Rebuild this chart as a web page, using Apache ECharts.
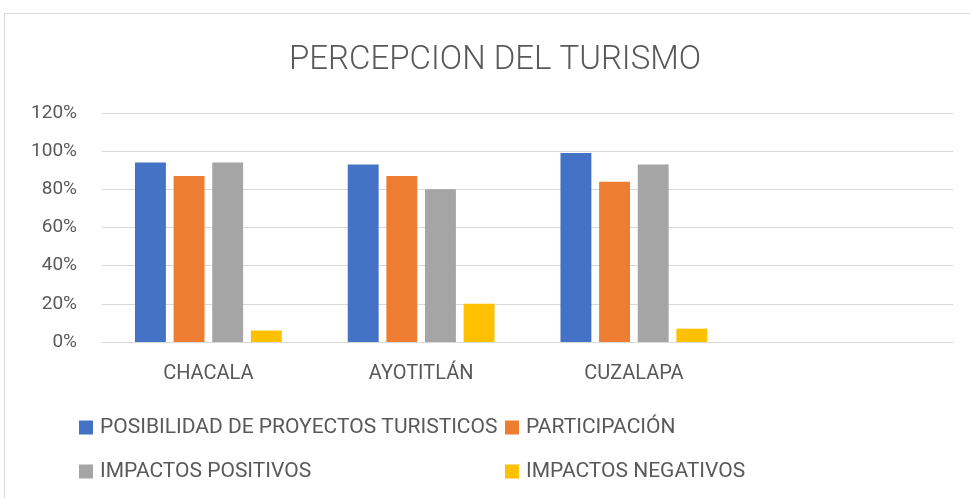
<!DOCTYPE html>
<html>
<head>
<meta charset="utf-8">
<script src="https://cdn.jsdelivr.net/npm/echarts@6/dist/echarts.min.js"></script>
<style>
  html, body { margin: 0; padding: 0; background: #fff; }
  #chart { width: 970px; height: 498px; }
</style>
</head>
<body>
<div id="chart"></div>
<script>
// Communities surveyed (fourth slot is an empty category in the source sheet)
const categories = ['CHACALA', 'AYOTITLÁN', 'CUZALAPA', ''];

const seriesNames = [
  'POSIBILIDAD DE PROYECTOS TURISTICOS',
  'PARTICIPACIÓN',
  'IMPACTOS POSITIVOS',
  'IMPACTOS NEGATIVOS'
];

// Percentages per community
const posibilidad = [94, 93, 99, null];
const participacion = [87, 87, 84, null];
const impactosPositivos = [94, 80, 93, null];
const impactosNegativos = [6, 20, 7, null];

const colors = ['#4472C4', '#ED7D31', '#A5A5A5', '#FFC000'];
const textColor = '#595959';
const font = "Roboto, 'Open Sans', sans-serif";

const values = [posibilidad, participacion, impactosPositivos, impactosNegativos];

const chart = echarts.init(document.getElementById('chart'), null, { renderer: 'canvas' });

// Two-column legend layout
const legendPos = [
  { left: 79, top: 417 },
  { left: 505, top: 417 },
  { left: 79, top: 461 },
  { left: 505, top: 461 }
];

chart.setOption({
  animation: false,
  color: colors,
  title: {
    text: 'PERCEPCION DEL TURISMO',
    left: 289,
    top: 44,
    padding: 0,
    textStyle: { fontFamily: font, fontWeight: 300, fontSize: 33, color: textColor }
  },
  graphic: [{
    type: 'rect',
    shape: { x: 4.5, y: 13.5, width: 1000, height: 600 },
    style: { fill: 'none', stroke: '#D9D9D9', lineWidth: 1 },
    silent: true,
    z: -1
  }],
  legend: seriesNames.map((name, i) => ({
    data: [name],
    left: legendPos[i].left,
    top: legendPos[i].top,
    padding: 0,
    itemWidth: 14,
    itemHeight: 14,
    itemGap: 0,
    icon: 'rect',
    textStyle: { fontFamily: font, fontSize: 21, color: textColor, padding: [0, 0, 0, 2] }
  })),
  grid: { left: 102, right: 17, top: 113, bottom: 156, containLabel: false },
  xAxis: {
    type: 'category',
    data: categories,
    axisLine: { lineStyle: { color: '#D9D9D9', width: 1 } },
    axisTick: { show: false },
    axisLabel: { fontFamily: font, fontSize: 20, color: textColor, margin: 22 }
  },
  yAxis: {
    type: 'value',
    min: 0,
    max: 120,
    interval: 20,
    axisLine: { show: false },
    axisTick: { show: false },
    splitLine: { lineStyle: { color: '#D9D9D9', width: 1 } },
    axisLabel: { fontFamily: font, fontSize: 19, color: textColor, margin: 25, formatter: '{value}%' }
  },
  series: seriesNames.map((name, i) => ({
    name,
    type: 'bar',
    data: values[i],
    barGap: '25%',
    barCategoryGap: '31%'
  }))
});
</script>
</body>
</html>
